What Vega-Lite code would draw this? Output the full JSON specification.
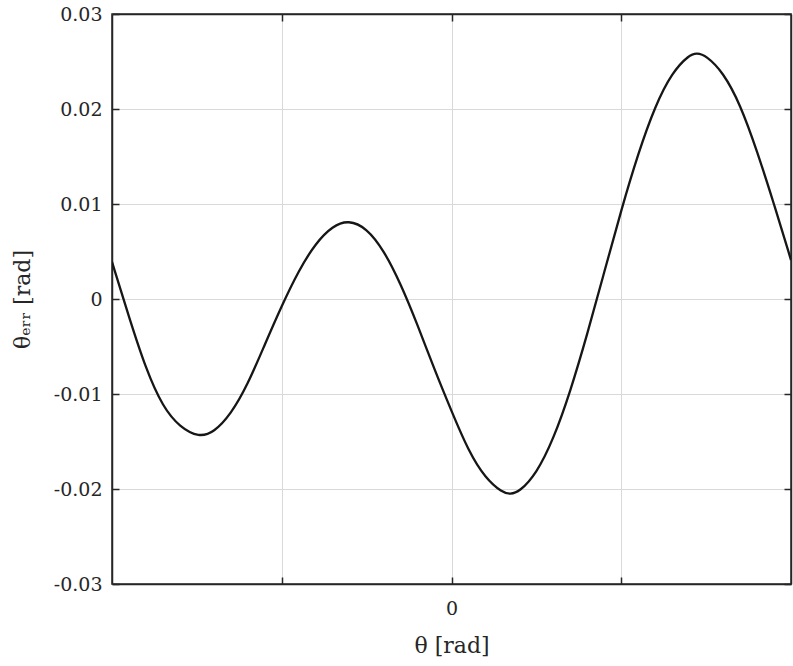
{
  "$schema": "https://vega.github.io/schema/vega-lite/v6.json",
  "width": 679,
  "height": 570,
  "autosize": {"type": "none"},
  "padding": {"left": 112, "top": 14, "right": 2, "bottom": 82},
  "background": "white",
  "config": {
    "view": {"stroke": "#262626", "strokeWidth": 1.5},
    "axis": {
      "labelFont": "DejaVu Serif",
      "titleFont": "DejaVu Serif",
      "labelFontSize": 19,
      "titleFontSize": 22,
      "labelColor": "#262626",
      "titleColor": "#262626",
      "titleFontWeight": "normal",
      "domainColor": "#262626",
      "domainWidth": 1.5,
      "tickColor": "#262626",
      "tickWidth": 1.5,
      "tickSize": -7,
      "gridColor": "#d9d9d9",
      "gridWidth": 1
    }
  },
  "data": {
    "values": [
      {"theta": -3.1416, "err": 0.0039},
      {"theta": -2.9845, "err": -0.0019},
      {"theta": -2.8274, "err": -0.0074},
      {"theta": -2.6704, "err": -0.0114},
      {"theta": -2.5133, "err": -0.0135},
      {"theta": -2.3366, "err": -0.01456},
      {"theta": -2.1991, "err": -0.01404},
      {"theta": -2.0420, "err": -0.01214},
      {"theta": -1.8850, "err": -0.0090},
      {"theta": -1.7279, "err": -0.0048},
      {"theta": -1.5708, "err": -0.0007},
      {"theta": -1.4137, "err": 0.0030},
      {"theta": -1.2566, "err": 0.0059},
      {"theta": -1.0996, "err": 0.0077},
      {"theta": -0.9532, "err": 0.00832},
      {"theta": -0.7854, "err": 0.00748},
      {"theta": -0.6283, "err": 0.00517},
      {"theta": -0.4712, "err": 0.00163},
      {"theta": -0.3142, "err": -0.00272},
      {"theta": -0.1571, "err": -0.00745},
      {"theta": 0.0, "err": -0.0118},
      {"theta": 0.1571, "err": -0.01601},
      {"theta": 0.3142, "err": -0.01889},
      {"theta": 0.4712, "err": -0.02038},
      {"theta": 0.5414, "err": -0.02056},
      {"theta": 0.6283, "err": -0.0203},
      {"theta": 0.7854, "err": -0.01839},
      {"theta": 0.9425, "err": -0.01478},
      {"theta": 1.0996, "err": -0.00975},
      {"theta": 1.2566, "err": -0.00371},
      {"theta": 1.4137, "err": 0.00285},
      {"theta": 1.5708, "err": 0.00937},
      {"theta": 1.7279, "err": 0.01535},
      {"theta": 1.8850, "err": 0.02035},
      {"theta": 2.0420, "err": 0.02387},
      {"theta": 2.1991, "err": 0.02569},
      {"theta": 2.2691, "err": 0.0259},
      {"theta": 2.3562, "err": 0.02563},
      {"theta": 2.5133, "err": 0.02387},
      {"theta": 2.6704, "err": 0.02054},
      {"theta": 2.8274, "err": 0.0156},
      {"theta": 2.9845, "err": 0.0100},
      {"theta": 3.1416, "err": 0.0041}
    ]
  },
  "layer": [
    {
      "mark": {"type": "line", "color": "#161616", "strokeWidth": 2.3, "interpolate": "basis", "clip": true},
      "encoding": {
        "x": {
          "field": "theta",
          "type": "quantitative",
          "scale": {"domain": [-3.14159, 3.14159], "nice": false, "zero": false},
          "axis": {
            "orient": "bottom",
            "values": [-1.5708, 0, 1.5708],
            "labelExpr": "datum.value == 0 ? '0' : ''",
            "title": "θ  [rad]",
            "labelPadding": 22,
            "titlePadding": 17,
            "grid": true
          }
        },
        "y": {
          "field": "err",
          "type": "quantitative",
          "scale": {"domain": [-0.03, 0.03], "nice": false, "zero": false},
          "axis": {
            "orient": "left",
            "values": [-0.03, -0.02, -0.01, 0, 0.01, 0.02, 0.03],
            "format": ".2~f",
            "labelExpr": "replace(datum.label, '−', '-')",
            "title": "θₑᵣᵣ  [rad]",
            "labelPadding": 17,
            "titlePadding": 19,
            "grid": true
          }
        }
      }
    },
    {
      "mark": {"type": "line", "opacity": 0},
      "encoding": {
        "x": {
          "field": "theta",
          "type": "quantitative",
          "axis": {"orient": "top", "values": [-1.5708, 0, 1.5708], "labels": false, "title": null, "grid": false}
        },
        "y": {
          "field": "err",
          "type": "quantitative",
          "axis": {"orient": "right", "values": [-0.03, -0.02, -0.01, 0, 0.01, 0.02, 0.03], "labels": false, "title": null, "grid": false}
        }
      }
    }
  ],
  "resolve": {"axis": {"x": "independent", "y": "independent"}}
}
